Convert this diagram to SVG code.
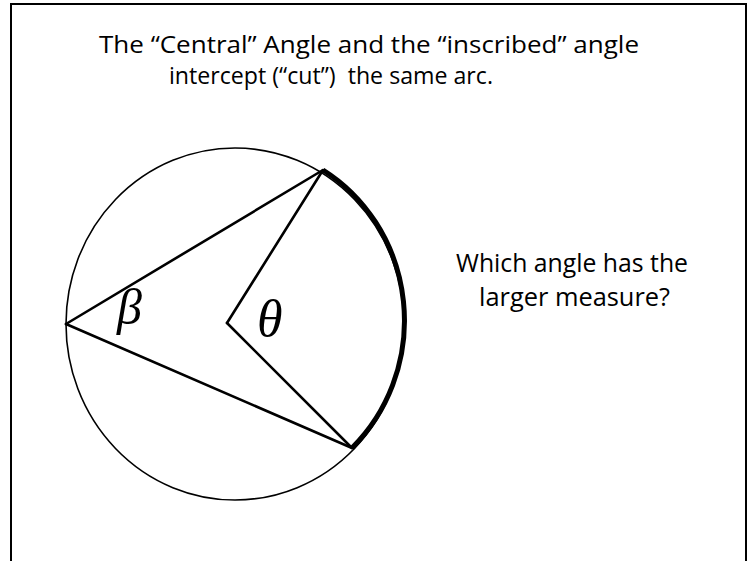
<svg xmlns="http://www.w3.org/2000/svg" width="748" height="561" viewBox="0 0 748 561">
<style>
.t{font-family:"Open Sans","Liberation Sans",sans-serif;font-size:25px;fill:#000;text-anchor:middle;white-space:pre}
.h{font-size:24px}
.g{font-family:"Liberation Serif","DejaVu Serif",serif;font-style:italic;fill:#000}
.ln{stroke:#000;stroke-width:2.6;fill:none;stroke-linecap:round}
</style>
<rect width="748" height="561" fill="#fff"/>
<rect id="frame" x="11" y="4" width="735" height="600" fill="none" stroke="#000" stroke-width="2"/>
<g id="title">
<text class="t h" x="369" y="53" textLength="540" lengthAdjust="spacingAndGlyphs">The “Central” Angle and the “inscribed” angle</text>
<text class="t h" x="331" y="84" textLength="324" lengthAdjust="spacingAndGlyphs" xml:space="preserve">intercept (“cut”)  the same arc.</text>
</g>
<g id="circle">
<ellipse cx="235" cy="324" rx="169" ry="176" fill="none" stroke="#000" stroke-width="1.6"/>
</g>
<g id="connectors">
<line class="ln" x1="66" y1="324" x2="323" y2="170"/>
<line class="ln" x1="66" y1="324" x2="352" y2="448"/>
<line class="ln" x1="227" y1="323" x2="323" y2="170"/>
<line class="ln" x1="227" y1="323" x2="352" y2="448"/>
</g>
<g id="arc">
<path d="M323,170 A169,176 0 0 1 352,448" fill="none" stroke="#000" stroke-width="5"/>
</g>
<g id="beta"><text class="g" x="117" y="324" font-size="50">β</text></g>
<g id="theta"><text class="g" x="257" y="336" font-size="52">θ</text></g>
<g id="question">
<text class="t" x="572" y="272" textLength="232" lengthAdjust="spacingAndGlyphs">Which angle has the</text>
<text class="t" x="574.5" y="306" textLength="191" lengthAdjust="spacingAndGlyphs">larger measure?</text>
</g>
</svg>
